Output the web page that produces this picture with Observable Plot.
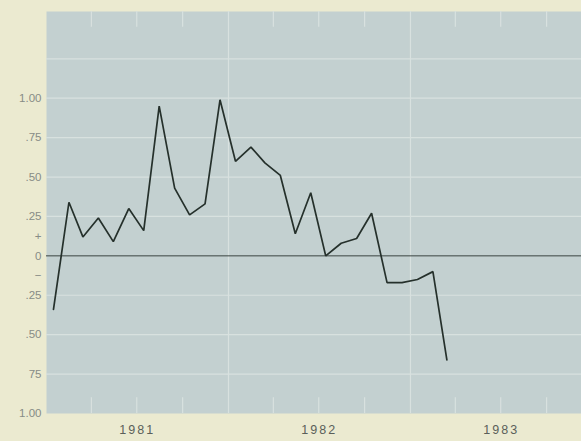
<!DOCTYPE html>
<html>
<head>
<meta charset="utf-8">
<script src="https://cdn.jsdelivr.net/npm/d3@7"></script>
<script src="https://cdn.jsdelivr.net/npm/@observablehq/plot@0.6"></script>
<style>
  html, body { margin: 0; padding: 0; background: #ebead0; }
  #chart svg { display: block; }
  #chart g[aria-label="x-axis tick label"] text { letter-spacing: 2px; }
</style>
</head>
<body>
<div id="chart"></div>
<script>
// Monthly observations (mid-month), Jan 1981 – Mar 1983
const months = [
  "1981-01","1981-02","1981-03","1981-04","1981-05","1981-06",
  "1981-07","1981-08","1981-09","1981-10","1981-11","1981-12",
  "1982-01","1982-02","1982-03","1982-04","1982-05","1982-06",
  "1982-07","1982-08","1982-09","1982-10","1982-11","1982-12",
  "1983-01","1983-02","1983-03"
];
const values = [
  -0.34, 0.34, 0.12, 0.24, 0.09, 0.30,
   0.16, 0.95, 0.43, 0.26, 0.33, 0.99,
   0.60, 0.69, 0.59, 0.51, 0.14, 0.40,
   0.00, 0.08, 0.11, 0.27, -0.17, -0.17,
  -0.15, -0.10, -0.66
];

// Axis ticks
const yearLabels = ["1981", "1982", "1983"];
const yTickValues = [1, 0.75, 0.5, 0.25, 0.125, 0, -0.125, -0.25, -0.5, -0.75, -1];
const yTickLabels = ["1.00", ".75", ".50", ".25", "+", "0", "\u2212", ".25", ".50", "75", "1.00"];
const gridValues = [1.25, 1, 0.75, 0.5, 0.25, -0.25, -0.5, -0.75];
const yearStarts = ["1982-01-01", "1983-01-01"];
const quarterStarts = [
  "1981-04-01","1981-07-01","1981-10-01",
  "1982-04-01","1982-07-01","1982-10-01",
  "1983-04-01","1983-07-01","1983-10-01"
];

const data = months.map((m, i) => ({date: new Date(m + "-15"), value: values[i]}));
const yearMids = yearLabels.map(y => new Date(y + "-07-02"));
const labelOf = new Map(yTickValues.map((v, i) => [v, yTickLabels[i]]));

const chart = Plot.plot({
  width: 581,
  height: 441,
  marginTop: 11,
  marginBottom: 28,
  marginLeft: 46,
  marginRight: 0,
  style: {background: "#ebead0", fontFamily: "Liberation Sans, Arial, sans-serif"},
  x: {type: "utc", domain: [new Date("1981-01-01"), new Date("1983-12-10")]},
  y: {domain: [-1, 1.55]},
  marks: [
    Plot.frame({fill: "#c3d0d0", stroke: null}),
    Plot.ruleY(gridValues, {stroke: "#d8e1df", strokeWidth: 1.2}),
    Plot.ruleX(yearStarts.map(d => new Date(d)), {stroke: "#d8e1df", strokeWidth: 1.2}),
    Plot.ruleX(quarterStarts.map(d => new Date(d)), {y1: 1.55, y2: 1.45, stroke: "#d8e1df", strokeWidth: 1.2}),
    Plot.ruleX(quarterStarts.map(d => new Date(d)), {y1: -1, y2: -0.9, stroke: "#d8e1df", strokeWidth: 1.2}),
    Plot.ruleY([0], {stroke: "#3a4440", strokeWidth: 1}),
    Plot.line(data, {x: "date", y: "value", stroke: "#25302b", strokeWidth: 1.7, strokeLinejoin: "miter"}),
    Plot.axisY({
      ticks: yTickValues,
      tickFormat: d => labelOf.get(d),
      tickSize: 0,
      tickPadding: 5,
      fontSize: 11.5,
      color: "#878c86",
      label: null
    }),
    Plot.axisX({
      ticks: yearMids,
      tickFormat: d => String(d.getUTCFullYear()),
      tickSize: 0,
      tickPadding: 12,
      fontSize: 12.5,
      color: "#5a5f5a",
      label: null
    })
  ]
});
document.getElementById("chart").append(chart);
</script>
</body>
</html>
